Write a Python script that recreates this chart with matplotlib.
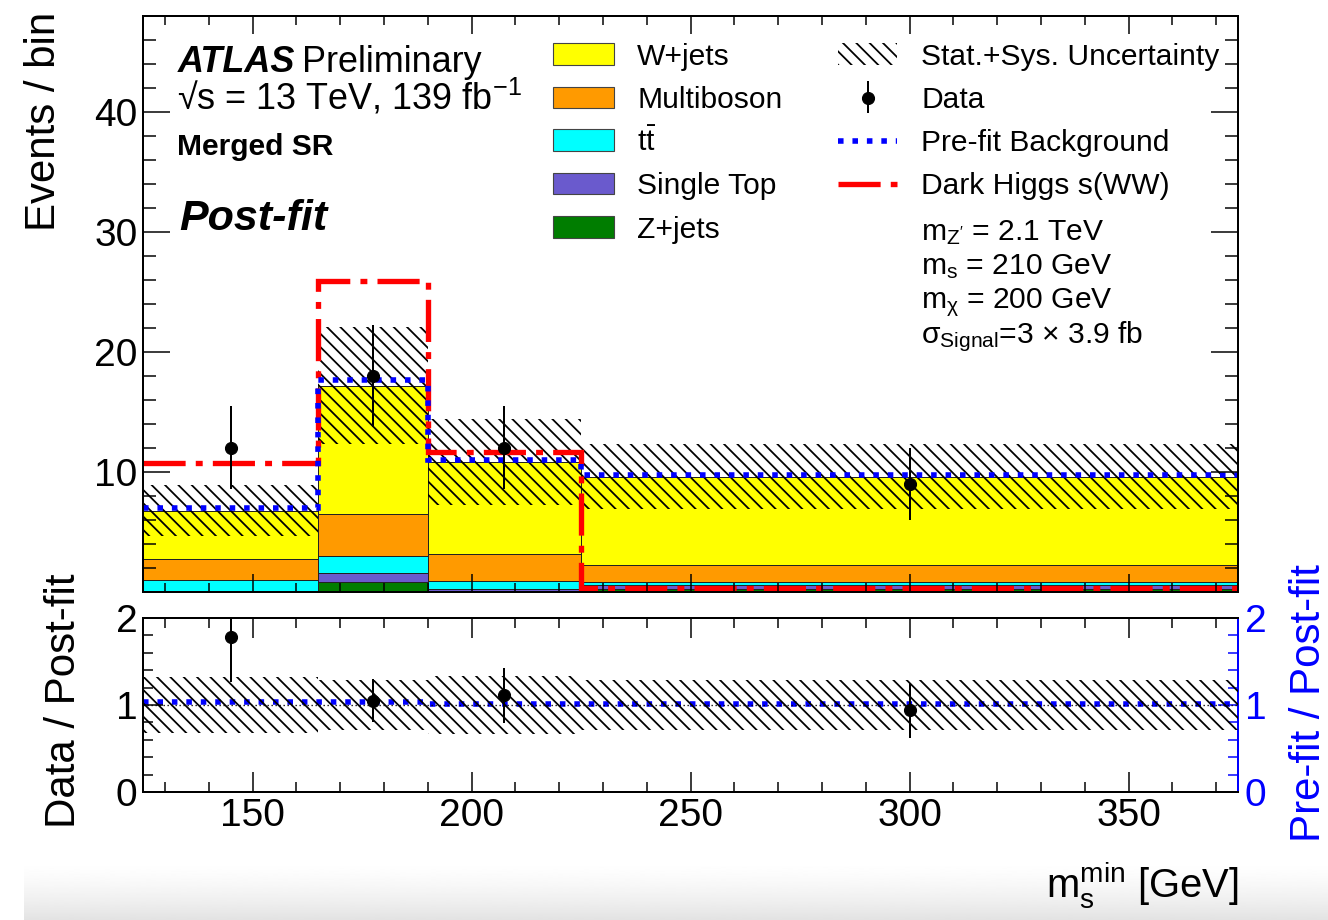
import numpy as np
import matplotlib
matplotlib.use("Agg")
import matplotlib.pyplot as plt
from matplotlib.patches import Rectangle
from matplotlib.lines import Line2D
from matplotlib.ticker import FixedLocator, MultipleLocator

plt.rcParams['font.family'] = ['Liberation Sans', 'DejaVu Sans']
plt.rcParams['mathtext.fontset'] = 'custom'
plt.rcParams['mathtext.rm'] = 'Liberation Sans'
plt.rcParams['mathtext.it'] = 'Liberation Sans:italic'
plt.rcParams['mathtext.bf'] = 'Liberation Sans:bold'
plt.rcParams['hatch.linewidth'] = 1.6

# binning in m_s^min [GeV]
edges = np.array([125, 165, 190, 225, 375])

# post-fit background yields (stacked bottom -> top)
zjets = np.array([0.00, 0.83, 0.02, 0.20])
single_top = np.array([0.00, 0.72, 0.20, 0.37])
ttbar = np.array([1.00, 1.45, 0.63, 0.25])
multiboson = np.array([1.67, 3.47, 2.25, 1.43])
wjets = np.array([4.08, 10.70, 7.72, 7.33])
bkg_unc = np.array([2.16, 4.90, 3.60, 2.70])

prefit_bkg = np.array([7.00, 17.67, 11.00, 9.70])
signal = np.array([10.75, 25.86, 11.60, 0.30])
data = np.array([12, 18, 12, 9])

W, H, DPI = 1328, 920, 80
fig = plt.figure(figsize=(W / DPI, H / DPI), dpi=DPI)


def px_axes(left, top, right, bottom):
    return fig.add_axes([left / W, 1 - bottom / H, (right - left) / W, (bottom - top) / H])


ax = px_axes(143, 16, 1238, 591.5)
axr = px_axes(143, 617.7, 1238, 792.3)

widths = np.diff(edges)
centers = edges[:-1] + widths / 2
hatch = '\\\\'

stack = [
    (zjets, '#007d00'),
    (single_top, '#6a5acd'),
    (ttbar, '#00ffff'),
    (multiboson, '#ff9a00'),
    (wjets, '#ffff00'),
]
bottom = np.zeros(len(widths))
for vals, col in stack:
    ax.bar(edges[:-1], vals, width=widths, bottom=bottom, align='edge',
           color=col, edgecolor='#222222', linewidth=0.9)
    bottom = bottom + vals
total = bottom

ax.bar(edges[:-1], 2 * bkg_unc, width=widths, bottom=total - bkg_unc, align='edge',
       fill=False, hatch=hatch, edgecolor='black', linewidth=0)

prefit_ls = (0, (1, 1.6))
signal_ls = (0, (7.9, 1.9, 1.3, 1.9))
ax.stairs(signal, edges, baseline=None, color='red', linewidth=4.8, linestyle=signal_ls)
ax.stairs(prefit_bkg, edges, baseline=None, color='blue', linewidth=5, linestyle=prefit_ls)
ax.errorbar(centers, data, yerr=np.sqrt(data), fmt='o', color='black', ms=10.8,
            elinewidth=1.8, capsize=0, zorder=5)

ax.set_xlim(edges[0], edges[-1])
ax.set_ylim(0, 48)
ax.xaxis.set_major_locator(MultipleLocator(50))
ax.xaxis.set_minor_locator(MultipleLocator(10))
ax.yaxis.set_major_locator(FixedLocator([10, 20, 30, 40]))
ax.yaxis.set_minor_locator(MultipleLocator(2))
ax.tick_params(which='both', direction='in', top=True, right=True, width=1.35)
ax.tick_params(axis='x', which='major', length=16)
ax.tick_params(axis='x', which='minor', length=8)
ax.tick_params(axis='y', which='major', length=24)
ax.tick_params(axis='y', which='minor', length=12)
ax.tick_params(axis='x', labelbottom=False)
ax.tick_params(axis='y', labelsize=35, pad=5)
for s in ax.spines.values():
    s.set_linewidth(1.8)

# ratio panel
rel = bkg_unc / total
axr2 = axr.twinx()
axr2.stairs(prefit_bkg / total, edges, baseline=None, color='blue', linewidth=5,
            linestyle=prefit_ls)
axr.bar(edges[:-1], 2 * rel, width=widths, bottom=1 - rel, align='edge',
        fill=False, hatch=hatch, edgecolor='black', linewidth=0)
axr.axhline(1, color='black', linewidth=1.2, linestyle=(0, (1, 2)))
axr.errorbar(centers, data / total, yerr=np.sqrt(data) / total, fmt='o', color='black',
             ms=10.8, elinewidth=1.8, capsize=0, zorder=5)
axr.set_zorder(axr2.get_zorder() + 1)
axr.patch.set_visible(False)

for a in (axr, axr2):
    a.set_xlim(edges[0], edges[-1])
    a.set_ylim(0, 2)
    a.yaxis.set_major_locator(FixedLocator([0, 1, 2]))
    a.yaxis.set_minor_locator(MultipleLocator(0.2))
axr.xaxis.set_major_locator(MultipleLocator(50))
axr.xaxis.set_minor_locator(MultipleLocator(10))
axr.tick_params(which='both', direction='in', top=True, right=False, width=1.35)
axr.tick_params(which='major', length=18)
axr.tick_params(which='minor', length=9)
axr.tick_params(axis='both', labelsize=35)
axr.tick_params(axis='x', pad=5)
axr.tick_params(axis='y', pad=5)
axr.spines['right'].set_visible(False)
for s in ('left', 'top', 'bottom'):
    axr.spines[s].set_linewidth(1.8)
    axr2.spines[s].set_visible(False)
axr2.spines['right'].set_color('blue')
axr2.spines['right'].set_linewidth(1.8)
axr2.tick_params(axis='y', which='both', direction='in', colors='blue', width=1.35,
                 labelsize=35, pad=6)
axr2.tick_params(axis='y', which='major', length=18)
axr2.tick_params(axis='y', which='minor', length=9)

# overlay in pixel coordinates for labels and legend
ov = fig.add_axes([0, 0, 1, 1])
shade = 1.0 - 0.11 * np.linspace(0, 1, 80) ** 1.5
ov.imshow(shade.reshape(-1, 1), cmap='gray', vmin=0, vmax=1, aspect='auto',
          extent=(24, W, H, 860), origin='upper', interpolation='bilinear', zorder=0)
ov.set_xlim(0, W)
ov.set_ylim(H, 0)
ov.axis('off')

ov.text(178, 71.7, 'ATLAS', fontsize=32.4, fontweight='bold', fontstyle='italic', va='baseline')
ov.text(302, 71.7, 'Preliminary', fontsize=32.4, va='baseline')
ov.text(177, 110, '√s = 13 TeV, 139 fb$^{-1}$', fontsize=32.4, va='baseline')
ov.text(177, 155, 'Merged SR', fontsize=27, fontweight='bold', va='baseline')
ov.text(179, 230, 'Post-fit', fontsize=38.7, fontweight='bold', fontstyle='italic', va='baseline')

leg_size = 27
rows = [65, 108.3, 151, 194.3, 237.7]
col1 = [('W+jets', '#ffff00'), ('Multiboson', '#ff9a00'), (r'$\mathrm{t\bar{t}}$', '#00ffff'),
        ('Single Top', '#6a5acd'), ('Z+jets', '#007d00')]
for (lab, col), yb in zip(col1, rows):
    ov.add_patch(Rectangle((553, yb - 21.7), 61, 21.7, facecolor=col, edgecolor='#444444',
                           linewidth=1))
    ov.text(637, yb, lab, fontsize=leg_size, va='baseline')

ov.add_patch(Rectangle((838, rows[0] - 21.7), 59, 21.7, fill=False, hatch=hatch,
                       edgecolor='black', linewidth=0))
ov.text(921, rows[0], 'Stat.+Sys. Uncertainty', fontsize=leg_size, va='baseline')
ov.add_line(Line2D([867.5, 867.5], [82, 112], color='black', linewidth=1.8))
ov.plot([867.5], [97.7], 'o', color='black', ms=10.8)
ov.text(921, rows[1], 'Data', fontsize=leg_size, va='baseline')
ov.add_line(Line2D([838, 897], [140.5, 140.5], color='blue', linewidth=5, linestyle=prefit_ls))
ov.text(921, rows[2], 'Pre-fit Background', fontsize=leg_size, va='baseline')
ov.add_line(Line2D([838, 897], [183.5, 183.5], color='red', linewidth=4.8, linestyle=signal_ls))
ov.text(921, rows[3], 'Dark Higgs s(WW)', fontsize=leg_size, va='baseline')
ov.text(921, 240, "m$_{\\mathrm{Z'}}$ = 2.1 TeV", fontsize=leg_size, va='baseline')
ov.text(921, 274, 'm$_{\\mathrm{s}}$ = 210 GeV', fontsize=leg_size, va='baseline')
ov.text(921, 308, 'm$_{\\mathrm{χ}}$ = 200 GeV', fontsize=leg_size, va='baseline')
ov.text(921, 343, 'σ$_{\\mathrm{Signal}}$=3 × 3.9 fb', fontsize=leg_size, va='baseline')

ov.text(44, 12, 'Events / bin', fontsize=37.8, rotation=90, ha='center', va='top')
ov.text(64, 701, 'Data / Post-fit', fontsize=37.8, rotation=90, ha='center', va='center')
ov.text(1309, 703, 'Pre-fit / Post-fit', fontsize=37.8, rotation=90, ha='center', va='center',
        color='blue')
ov.text(1238, 898, 'm$_{\\mathrm{s}}^{\\mathrm{min}}$ [GeV]', fontsize=36, ha='right',
        va='baseline', zorder=3)

fig.savefig('out.png', dpi=DPI)
